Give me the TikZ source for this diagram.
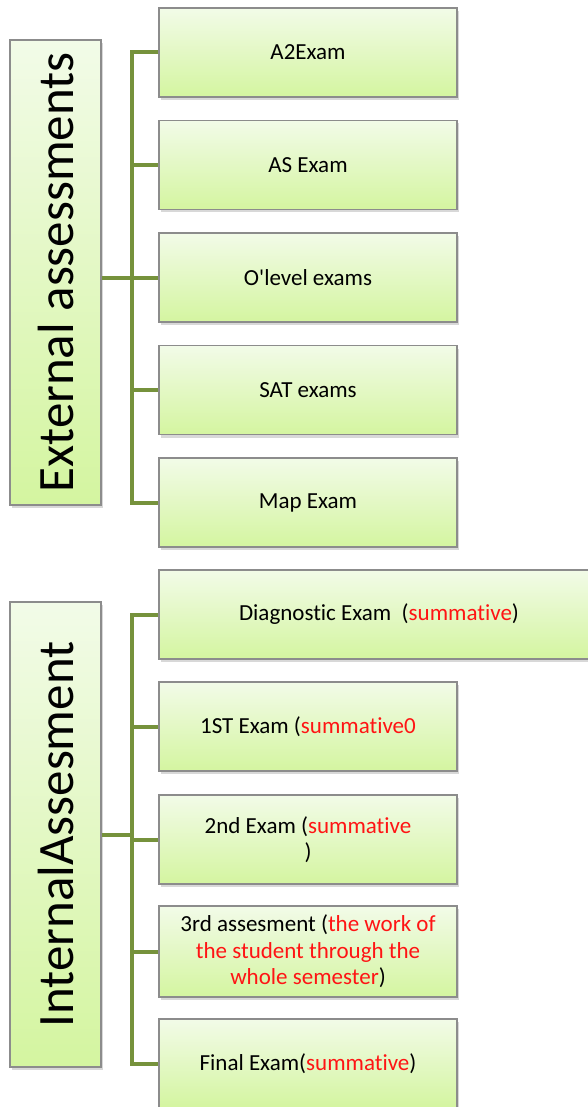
\documentclass[tikz,border=0pt]{standalone}
\usepackage{fontspec}
\setmainfont{Carlito}[Ligatures={NoCommon}]
\usetikzlibrary{shadows}

\definecolor{boxtop}{RGB}{242,251,232}
\definecolor{boxbot}{RGB}{212,245,160}
\definecolor{boxline}{RGB}{140,140,140}
\definecolor{branch}{RGB}{118,146,60}
\definecolor{notered}{RGB}{255,20,20}

\newcommand{\note}[1]{\textcolor{notered}{#1}}

\tikzset{
  examBox/.style={draw=boxline, line width=0.6pt, top color=boxtop, bottom color=boxbot,
    minimum width=149pt, minimum height=44.5pt, align=center, inner sep=2pt,
    font=\fontsize{11.5}{13.2}\selectfont,
    drop shadow={shadow xshift=1pt, shadow yshift=-1.5pt, opacity=0.3}},
  groupBox/.style={draw=boxline, line width=0.6pt, top color=boxtop, bottom color=boxbot,
    minimum width=45.5pt, minimum height=232.5pt, inner sep=0pt,
    font=\fontsize{25.5}{30}\selectfont,
    drop shadow={shadow xshift=1pt, shadow yshift=-1.5pt, opacity=0.3}},
  link/.style={draw=branch, line width=2pt}
}

\begin{document}
\begin{tikzpicture}[x=0.5pt, y=-0.5pt]
    \clip (0,0) rectangle (588,1107);
    \fill[white] (0,0) rectangle (588,1107);

    % Externe Prüfungen
    \node[groupBox] (ext) at (55.5,272.5) {\rotatebox{90}{External assessments}};
    \node[examBox] (a2)   at (308,52.5)  {A2Exam};
    \node[examBox] (as)   at (308,165)   {AS Exam};
    \node[examBox] (olev) at (308,277.5) {O\textquotesingle level exams};
    \node[examBox] (sat)  at (308,390)   {SAT exams};
    \node[examBox] (map)  at (308,502.5) {Map Exam};

    % Interne Prüfungen
    \node[groupBox] (int) at (55.5,834.5) {\rotatebox{90}{InternalAssesment}};
    \node[examBox, minimum width=220pt] (diag) at (379,614.5) {Diagnostic Exam~~(\note{summative})};
    \node[examBox] (first)  at (308,726.5)  {1ST Exam (\note{summative0}};
    \node[examBox] (second) at (308,839.5)  {2nd Exam (\note{summative}\\)};
    \node[examBox, minimum height=45.5pt] (third) at (308,951.5)
      {3rd assesment (\note{the work of}\\\note{the student through the}\\\note{whole semester})};
    \node[examBox] (final)  at (308,1063.5) {Final Exam(\note{summative})};

    % Verbindungslinien
    \coordinate (xj) at (132,0);
    \draw[link] (ext.east |- olev.west) -- (olev.west);
    \draw[link] (a2.west) -- (a2.west -| xj) -- (map.west -| xj) -- (map.west);
    \draw[link] (as.west -| xj) -- (as.west);
    \draw[link] (sat.west -| xj) -- (sat.west);

    \draw[link] (int.east) -- (int.east -| xj);
    \draw[link] (diag.west) -- (diag.west -| xj) -- (final.west -| xj) -- (final.west);
    \draw[link] (first.west -| xj) -- (first.west);
    \draw[link] (second.west -| xj) -- (second.west);
    \draw[link] (third.west -| xj) -- (third.west);
\end{tikzpicture}
\end{document}
